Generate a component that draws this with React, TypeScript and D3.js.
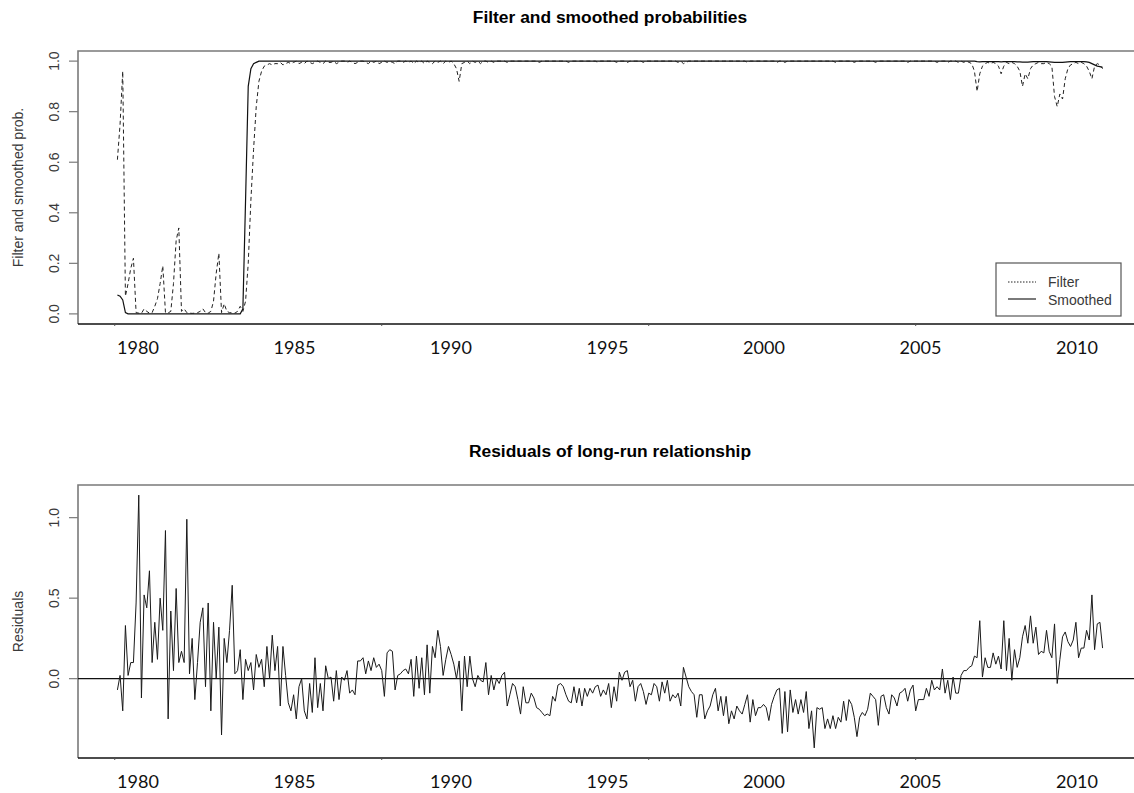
import React from 'react';
import * as d3 from 'd3';

const residuals: number[] = [
  -0.07, 0.02, -0.2, 0.33, 0.02, 0.1, 0.1, 0.47, 1.14, -0.12,
  0.52, 0.44, 0.67, 0.1, 0.35, 0.12, 0.5, 0.3, 0.92, -0.25,
  0.42, 0.05, 0.56, 0.1, 0.17, 0.1, 0.99, 0.03, 0.25, -0.13,
  0.1, 0.35, 0.44, -0.05, 0.47, -0.2, 0.35, 0.0, 0.32, -0.35,
  0.25, 0.1, 0.3, 0.58, 0.03, 0.05, 0.18, -0.13, 0.12, 0.05,
  0.1, -0.07, 0.15, 0.07, 0.12, -0.05, 0.2, 0.0, 0.27, 0.05,
  0.2, -0.17, 0.2, 0.02, -0.15, -0.2, -0.1, -0.25, -0.05,
  0.0, -0.2, -0.25, -0.03, -0.21, 0.13, -0.18, -0.03, -0.2, 0.08,
  0.0, 0.01, -0.14, 0.05, -0.13, 0.01, -0.01, 0.05, -0.09, -0.07,
  -0.1, 0.11, 0.11, 0.13, 0.03, 0.11, 0.05, 0.13, 0.07, 0.09,
  0.05, -0.11, 0.16, 0.18, 0.17, -0.07, 0.02, 0.03, 0.05, 0.06,
  0.03, 0.12, -0.11, 0.14, -0.06, 0.13, -0.1, 0.21, -0.09, 0.2,
  0.13, 0.3, 0.2, 0.02, 0.12, 0.2, 0.15, 0.09, 0.0, 0.11,
  -0.2, 0.14, -0.05, 0.14, 0.0, -0.05, 0.02, -0.01, -0.02, 0.1,
  -0.1, 0.02, -0.07, 0.0, -0.03,
  0.02, 0.04, -0.17, -0.1, -0.03, -0.05, -0.13, -0.22, -0.05, -0.15,
  -0.15, -0.09, -0.12, -0.18, -0.19, -0.21, -0.23, -0.22, -0.23, -0.11,
  -0.14, -0.04, -0.03, -0.05, -0.1, -0.14, -0.15, -0.05, -0.15, -0.06,
  -0.17, -0.06, -0.11, -0.06, -0.09, -0.05, -0.04, -0.11, -0.07, -0.1,
  -0.03, -0.18, -0.05, -0.14, 0.04, -0.01, 0.04, 0.05, -0.05, -0.01,
  -0.14, -0.05, -0.03, -0.08, -0.16, -0.09, -0.1, -0.03, -0.05, -0.14,
  -0.02, -0.09, -0.01, -0.14, -0.1, -0.12, -0.09, -0.17, 0.07, 0.01,
  -0.05, -0.08, -0.1, -0.24, -0.1,
  -0.1, -0.25, -0.2, -0.17, -0.1, -0.06, -0.2, -0.11, -0.23, -0.11,
  -0.28, -0.2, -0.25, -0.17, -0.2, -0.22, -0.16, -0.1, -0.27, -0.13,
  -0.23, -0.18, -0.18, -0.16, -0.18, -0.26, -0.16, -0.11, -0.07, -0.06,
  -0.34, -0.08, -0.33, -0.07, -0.21, -0.13, -0.22, -0.13, -0.21, -0.08,
  -0.31, -0.2, -0.43, -0.18, -0.19, -0.18, -0.31, -0.25, -0.31, -0.23,
  -0.31, -0.24, -0.27, -0.14, -0.26, -0.13, -0.16, -0.24, -0.36, -0.24,
  -0.21, -0.23, -0.19, -0.09, -0.11, -0.13, -0.29, -0.11, -0.1, -0.18,
  -0.22, -0.1, -0.12, -0.17, -0.09,
  -0.08, -0.06, -0.14, -0.07, -0.04, -0.2, -0.13, -0.13, -0.13, -0.06,
  -0.11, -0.01, -0.07, -0.05, -0.07, 0.06, -0.09, -0.01, -0.13, 0.01,
  -0.09, -0.09, 0.02, 0.05, 0.05, 0.07, 0.08, 0.14, 0.13, 0.36,
  0.01, 0.13, 0.07, 0.07, 0.16, 0.09, 0.14, 0.06, 0.36, 0.05,
  0.25, -0.01, 0.18, 0.07, 0.13, 0.26, 0.33, 0.22, 0.39, 0.22,
  0.32, 0.15, 0.17, 0.16, 0.3, 0.17, 0.13, 0.34, -0.03, 0.12,
  0.26, 0.29, 0.23, 0.2, 0.24, 0.35, 0.13, 0.19, 0.19, 0.3,
  0.24, 0.52, 0.18, 0.34, 0.35, 0.19,
];

const filterProb: number[] = [
  0.61, 0.75, 0.96, 0.07, 0.12, 0.18, 0.22, 0.005, 0.003, 0.002, 0.02, 0.01, 0.003, 0.005, 0.03, 0.06, 0.12, 0.19, 0.005, 0.004,
  0.01, 0.12, 0.29, 0.34, 0.01, 0.02, 0.005, 0.003, 0.002, 0.003, 0.005, 0.01, 0.02, 0.005, 0.003, 0.01, 0.05, 0.16, 0.24, 0.005,
  0.04, 0.01, 0.005, 0.004, 0.003, 0.01, 0.03, 0.01, 0.05, 0.2, 0.45, 0.65, 0.82, 0.92, 0.96, 0.98, 0.985, 0.99, 0.985, 0.99,
  0.99, 0.995, 0.985, 0.99, 0.995, 0.99, 0.995, 1, 0.99, 0.995, 0.99, 1, 0.995, 0.99, 0.995, 1, 0.995, 0.99, 1, 0.995,
  0.995, 1, 0.99, 0.995, 1, 1, 0.995, 1, 0.995, 0.99, 0.995, 1, 1, 0.995, 0.99, 1, 0.995, 1, 0.99, 0.995,
  1, 0.995, 1, 0.995, 0.99, 1, 1, 0.995, 1, 0.995, 1, 0.99, 1, 0.995, 1, 0.99, 1, 0.995, 0.99, 1,
  0.995, 1, 0.99, 1, 0.995, 1, 0.99, 0.97, 0.92, 0.99, 0.995, 1, 0.99, 1, 0.995, 1, 0.99, 1, 1, 0.995,
  1, 0.995, 1, 1, 1, 1, 0.995, 1, 1, 1, 1, 1, 1, 1, 1, 1, 1, 1, 0.995, 1,
  1, 1, 1, 1, 1, 1, 1, 1, 1, 0.995, 1, 1, 1, 1, 1, 1, 1, 1, 1, 1,
  0.995, 1, 1, 1, 1, 1, 1, 0.995, 1, 1, 1, 0.995, 1, 1, 1, 1, 1, 0.995, 1, 1,
  1, 1, 1, 1, 1, 1, 1, 1, 1, 1, 0.995, 1, 0.99, 0.995, 1, 1, 1, 1, 1, 1,
  1, 1, 1, 1, 1, 1, 1, 1, 1, 1, 1, 1, 1, 1, 1, 1, 0.995, 1, 1, 1,
  1, 1, 1, 1, 1, 1, 1, 0.995, 1, 1, 0.995, 1, 1, 1, 1, 1, 1, 1, 1, 1,
  1, 1, 1, 1, 1, 1, 1, 1, 1, 0.995, 1, 1, 1, 1, 1, 1, 0.995, 1, 1, 1,
  1, 1, 1, 1, 0.995, 1, 1, 1, 1, 1, 1, 1, 1, 1, 1, 1, 0.995, 1, 1, 1,
  1, 1, 1, 1, 1, 1, 1, 0.995, 1, 1, 1, 0.995, 1, 1, 1, 0.995, 1, 0.995, 1, 0.995,
  0.99, 0.96, 0.88, 0.95, 0.98, 0.99, 0.995, 0.99, 0.995, 0.99, 0.98, 0.95, 0.98, 0.995, 0.99, 0.995, 0.99, 0.98, 0.96, 0.9,
  0.95, 0.93, 0.97, 0.985, 0.99, 0.995, 0.99, 0.99, 0.995, 0.99, 0.98, 0.86, 0.82, 0.87, 0.85, 0.93, 0.97, 0.985, 0.99, 0.995,
  0.99, 0.995, 0.99, 0.98, 0.96, 0.93, 0.98, 0.99, 0.985, 0.97,
];

const smoothedProb: number[] = [
  0.075, 0.07, 0.055, 0.005, 0, 0, 0, 0, 0, 0, 0, 0, 0, 0, 0, 0, 0, 0, 0, 0,
  0, 0, 0, 0, 0, 0, 0, 0, 0, 0, 0, 0, 0, 0, 0, 0, 0, 0, 0, 0,
  0, 0, 0, 0, 0, 0, 0, 0.02, 0.45, 0.9, 0.97, 0.99, 0.995, 1, 1, 1, 1, 1, 1, 1,
  1, 1, 1, 1, 1, 1, 1, 1, 1, 1, 1, 1, 1, 1, 1, 1, 1, 1, 1, 1,
  1, 1, 1, 1, 1, 1, 1, 1, 1, 1, 1, 1, 1, 1, 1, 1, 1, 1, 1, 1,
  1, 1, 1, 1, 1, 1, 1, 1, 1, 1, 1, 1, 1, 1, 1, 1, 1, 1, 1, 1,
  1, 1, 1, 1, 1, 1, 1, 1, 1, 1, 1, 1, 1, 1, 1, 1, 1, 1, 1, 1,
  1, 1, 1, 1, 1, 1, 1, 1, 1, 1, 1, 1, 1, 1, 1, 1, 1, 1, 1, 1,
  1, 1, 1, 1, 1, 1, 1, 1, 1, 1, 1, 1, 1, 1, 1, 1, 1, 1, 1, 1,
  1, 1, 1, 1, 1, 1, 1, 1, 1, 1, 1, 1, 1, 1, 1, 1, 1, 1, 1, 1,
  1, 1, 1, 1, 1, 1, 1, 1, 1, 1, 1, 1, 1, 1, 1, 1, 1, 1, 1, 1,
  1, 1, 1, 1, 1, 1, 1, 1, 1, 1, 1, 1, 1, 1, 1, 1, 1, 1, 1, 1,
  1, 1, 1, 1, 1, 1, 1, 1, 1, 1, 1, 1, 1, 1, 1, 1, 1, 1, 1, 1,
  1, 1, 1, 1, 1, 1, 1, 1, 1, 1, 1, 1, 1, 1, 1, 1, 1, 1, 1, 1,
  1, 1, 1, 1, 1, 1, 1, 1, 1, 1, 1, 1, 1, 1, 1, 1, 1, 1, 1, 1,
  1, 1, 1, 1, 1, 1, 1, 1, 1, 1, 1, 1, 1, 1, 1, 1, 1, 1, 1, 1,
  1, 1, 0.998, 0.997, 0.998, 0.998, 0.998, 0.998, 0.998, 0.998, 0.998, 0.997, 0.998, 0.998, 0.998, 0.998, 0.998, 0.997, 0.997, 0.996,
  0.996, 0.996, 0.997, 0.998, 0.998, 0.998, 0.998, 0.998, 0.998, 0.997, 0.996, 0.995, 0.995, 0.995, 0.995, 0.996, 0.997, 0.998, 0.998, 0.998,
  0.998, 0.998, 0.998, 0.997, 0.995, 0.99, 0.985, 0.98, 0.978, 0.975,
];

const yearLabels: number[] = [1980, 1985, 1990, 1995, 2000, 2005, 2010];
const probTicks: number[] = [0, 0.2, 0.4, 0.6, 0.8, 1.0];
const residTicks: number[] = [0, 0.5, 1.0];
const indexTicks: number[] = [0, 100, 200, 300];

const W = 1134;
const H = 793;
const plotLeft = 78;
const plotRight = 1142;
const top1 = 51;
const bottom1 = 324;
const top2 = 485;
const bottom2 = 758;

function pad(ext: [number, number]): [number, number] {
  const r = ext[1] - ext[0];
  return [ext[0] - 0.04 * r, ext[1] + 0.04 * r];
}

const axisFont = 'Liberation Sans, Arial, sans-serif';
const textGray = '#3a3a3a';
const boxGray = '#7a7a7a';

export default function App() {
  const n = residuals.length;
  const x = d3.scaleLinear().domain(pad([1, n])).range([plotLeft, plotRight]);
  const yearX = d3.scaleLinear().domain([1980, 2010]).range([138, 1077]);
  const probExt = d3.extent([...filterProb, ...smoothedProb]) as [number, number];
  const y1 = d3.scaleLinear().domain(pad(probExt)).range([bottom1, top1]);
  const resExt = d3.extent(residuals) as [number, number];
  const y2 = d3.scaleLinear().domain(pad(resExt)).range([bottom2, top2]);

  const probLine = d3.line<number>().x((_, i) => x(i + 1)).y((d) => y1(d));
  const resLine = d3.line<number>().x((_, i) => x(i + 1)).y((d) => y2(d));
  const fmt = d3.format('.1f');

  const panel = (top: number, bottom: number) => (
    <g>
      <path
        d={`M${plotRight},${top}H${plotLeft}V${bottom}`}
        fill="none"
        stroke={boxGray}
        strokeWidth={1.6}
      />
      <line x1={plotLeft} x2={W} y1={bottom} y2={bottom} stroke="#111" strokeWidth={1.3} />
      {indexTicks.map((t) => (
        <line key={t} x1={x(t)} x2={x(t)} y1={bottom} y2={bottom + 2} stroke="#555" strokeWidth={1} />
      ))}
    </g>
  );

  const legX = 996;
  const legY = 263;

  return (
    <svg
      width={W}
      height={H}
      style={{ position: 'absolute', left: 0, top: 0, background: '#fff' }}
      xmlns="http://www.w3.org/2000/svg"
    >
      <rect x={0} y={0} width={W} height={H} fill="#fff" />

      {/* ---------- Top panel ---------- */}
      <text x={(plotLeft + plotRight) / 2} y={22.5} textAnchor="middle" fontFamily={axisFont} fontWeight="bold" fontSize={17.4} fill="#000">
        Filter and smoothed probabilities
      </text>
      {panel(top1, bottom1)}
      {probTicks.map((t) => (
        <g key={t}>
          <line x1={plotLeft - 9} x2={plotLeft} y1={y1(t)} y2={y1(t)} stroke={boxGray} strokeWidth={1.2} />
          <text transform={`translate(59,${y1(t)}) rotate(-90)`} textAnchor="middle" fontFamily={axisFont} fontSize={14} fill={textGray}>
            {fmt(t)}
          </text>
        </g>
      ))}
      <text transform={`translate(23,${(top1 + bottom1) / 2}) rotate(-90)`} textAnchor="middle" fontFamily={axisFont} fontSize={14} fill={textGray}>
        Filter and smoothed prob.
      </text>
      <path d={probLine(smoothedProb) || ''} fill="none" stroke="#111" strokeWidth={1.2} />
      <path d={probLine(filterProb) || ''} fill="none" stroke="#222" strokeWidth={1} strokeDasharray="4,3" />
      {yearLabels.map((yr) => (
        <text key={yr} x={yearX(yr)} y={354} textAnchor="middle" fontFamily="Lato, sans-serif" fontSize={18} fill="#111">
          {yr}
        </text>
      ))}

      {/* legend */}
      <rect x={legX} y={legY} width={125} height={53} fill="#fff" stroke="#555" strokeWidth={1.2} />
      <line x1={legX + 12} x2={legX + 40} y1={legY + 19} y2={legY + 19} stroke="#222" strokeWidth={1} strokeDasharray="1.5,1.5" />
      <line x1={legX + 12} x2={legX + 40} y1={legY + 36} y2={legY + 36} stroke="#222" strokeWidth={1.2} />
      <text x={legX + 52} y={legY + 24} fontFamily={axisFont} fontSize={14} fill={textGray}>Filter</text>
      <text x={legX + 52} y={legY + 42} fontFamily={axisFont} fontSize={14} fill={textGray}>Smoothed</text>

      {/* ---------- Bottom panel ---------- */}
      <text x={(plotLeft + plotRight) / 2} y={456.5} textAnchor="middle" fontFamily={axisFont} fontWeight="bold" fontSize={17.4} fill="#000">
        Residuals of long-run relationship
      </text>
      {panel(top2, bottom2)}
      {residTicks.map((t) => (
        <g key={t}>
          <line x1={plotLeft - 9} x2={plotLeft} y1={y2(t)} y2={y2(t)} stroke={boxGray} strokeWidth={1.2} />
          <text transform={`translate(59,${y2(t)}) rotate(-90)`} textAnchor="middle" fontFamily={axisFont} fontSize={14} fill={textGray}>
            {fmt(t)}
          </text>
        </g>
      ))}
      <text transform={`translate(23,${(top2 + bottom2) / 2}) rotate(-90)`} textAnchor="middle" fontFamily={axisFont} fontSize={14} fill={textGray}>
        Residuals
      </text>
      <line x1={plotLeft} x2={W} y1={y2(0)} y2={y2(0)} stroke="#111" strokeWidth={1.1} />
      <path d={resLine(residuals) || ''} fill="none" stroke="#1a1a1a" strokeWidth={1} />
      {yearLabels.map((yr) => (
        <text key={yr} x={yearX(yr)} y={788} textAnchor="middle" fontFamily="Lato, sans-serif" fontSize={18} fill="#111">
          {yr}
        </text>
      ))}
    </svg>
  );
}
